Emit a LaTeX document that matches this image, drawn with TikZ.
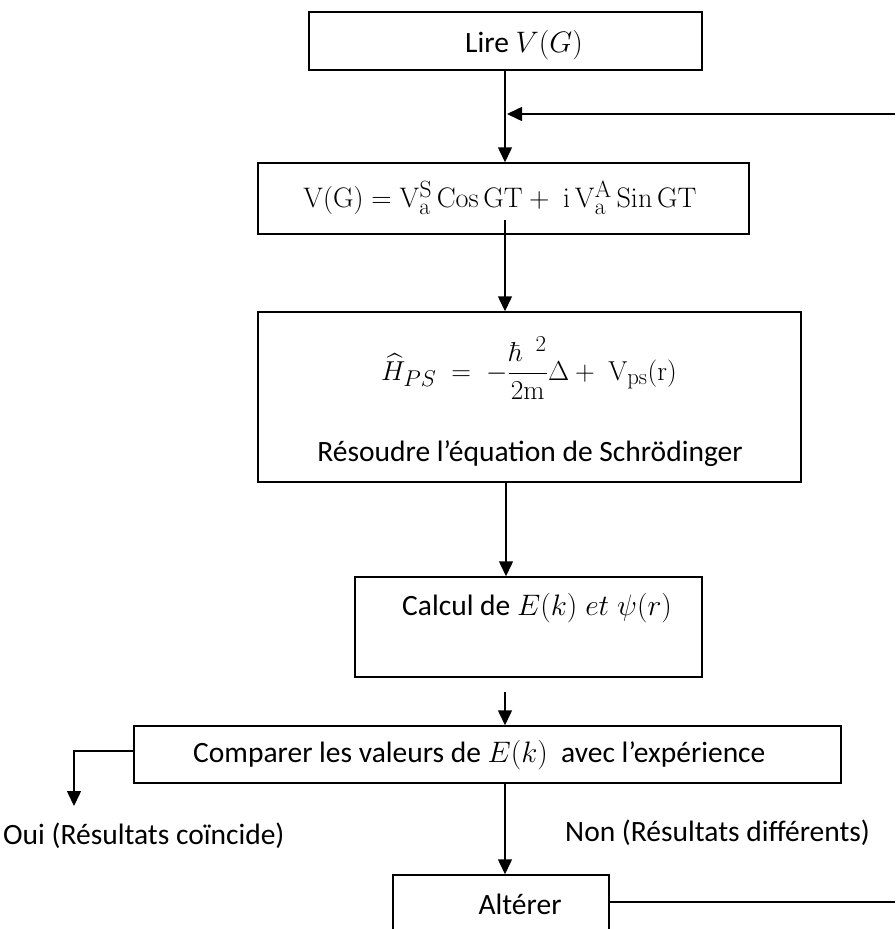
\documentclass[tikz,border=0pt]{standalone}
\usepackage[no-math]{fontspec}
\setmainfont{Carlito}
\usepackage{amsmath}
\usepackage{graphicx}
\usetikzlibrary{arrows.meta}
\newcommand{\mth}[1]{\scalebox{1.19}{$#1$}}
\tikzset{
  box/.style={draw, line width=1.5pt, inner sep=0pt},
  arr/.style={-{Triangle[length=15pt,width=14pt]}, line width=1.5pt},
  ln/.style={line width=1.5pt},
  lbl/.style={inner sep=0pt},
}
\begin{document}
\begin{tikzpicture}[x=1pt,y=-1pt, font=\fontsize{29.5}{34}\selectfont]
\useasboundingbox (0,0) rectangle (895,929);
% boxes
\node[box, minimum width=393pt, minimum height=58pt] (b1) at (505.5,41) {};
\node[box, minimum width=491pt, minimum height=71pt] (b2) at (503.5,198.5) {};
\node[box, minimum width=543pt, minimum height=170pt] (b3) at (529.5,397) {};
\node[box, minimum width=347pt, minimum height=100pt] (b4) at (528.5,627) {};
\node[box, minimum width=707pt, minimum height=57pt] (b5) at (487.5,754.5) {};
\node[box, minimum width=216pt, minimum height=90pt] (b6) at (501,920) {};
% texts
\node[lbl, anchor=west] (t1) at (465,45) {Lire \mth{V(G)}};
\node[lbl] (t2) at (500,198) {\scalebox{1.135}{$\mathrm{V(G)} = \mathrm{V_a^S\,Cos\,GT} +\ \mathrm{i\,V_a^A\,Sin\,GT}$}};
\node[lbl] (t3) at (529,368) {\scalebox{1.1}{$\widehat{H}_{PS}\ =\ -\dfrac{\hbar^{\;\;2}}{2\mathrm{m}}\Delta +\ \mathrm{V_{ps}(r)}$}};
\node[lbl] (t3b) at (530,454) {Résoudre l’équation de Schrödinger};
\node[lbl, anchor=west] (t4) at (402,608) {Calcul de \mth{E(k)\ et\ \psi(r)}};
\node[lbl, anchor=west] (t5) at (193,755) {Comparer les valeurs de \mth{E(k)}\ \ avec l’expérience};
\node[lbl, anchor=west] (oui) at (3,836) {Oui (Résultats coïncide)};
\node[lbl, anchor=west] (non) at (565,833) {Non (Résultats différents)};
\node[lbl] (t6) at (520,904) {Altérer};
% coordinates
\coordinate (fb) at (895,114);
\coordinate (m2) at (505,220);
\coordinate (c45) at (505,692);
\coordinate (c56) at (505,783);
\coordinate (ouiC) at (74,806);
\coordinate (alt) at (895,902);
% connectors
\draw[arr] (b1.south -| 505,0) -- (b2.north -| 505,0);
\draw[arr] (fb) -- (507,114);
\draw[arr] (m2) -- (m2 |- b3.north);
\draw[arr] (b3.south -| 506,0) -- (b4.north -| 506,0);
\draw[arr] (c45) -- (c45 |- b5.north);
\draw[arr] (c56) -- (c56 |- b6.north);
\draw[arr] (b5.west |- 0,751) -- (ouiC |- 0,751) -- (ouiC);
\draw[ln] (alt -| b6.east) -- (alt);
\end{tikzpicture}
\end{document}
